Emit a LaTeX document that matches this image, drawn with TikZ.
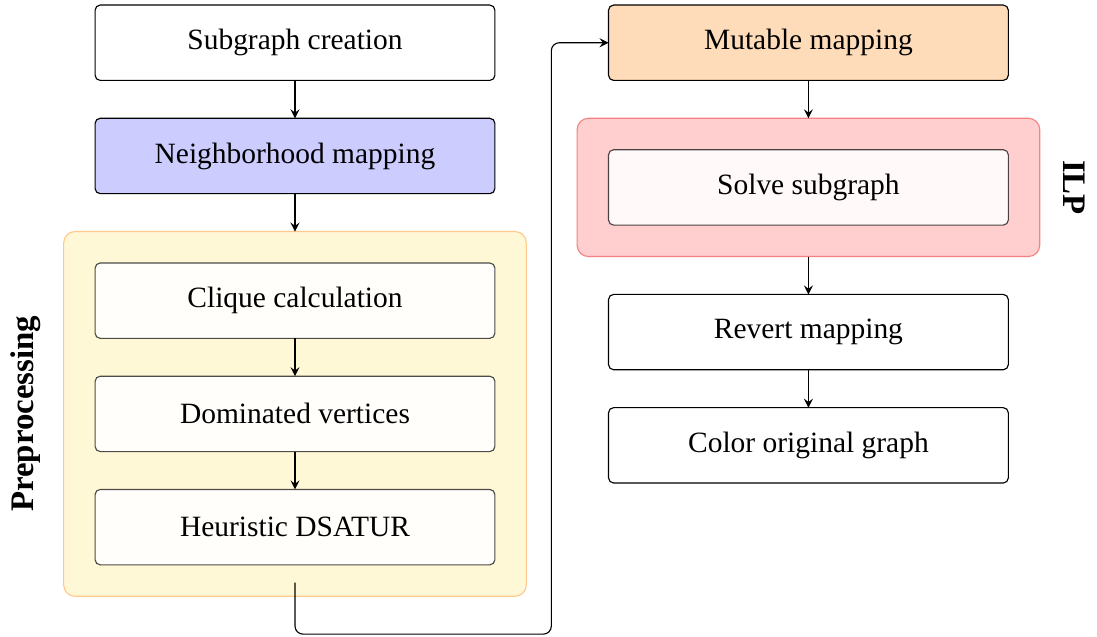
\documentclass[tikz,border=0pt]{standalone}
\usepackage{fontspec}
\setmainfont{Liberation Serif}
\usetikzlibrary{positioning,calc,fit,backgrounds}

\definecolor{nbhfill}{RGB}{204,204,255}
\definecolor{mutfill}{RGB}{255,220,185}
\definecolor{prepfill}{RGB}{255,248,215}
\definecolor{prepdraw}{RGB}{255,200,140}
\definecolor{ilpfill}{RGB}{255,206,206}
\definecolor{ilpdraw}{RGB}{245,130,130}

\begin{document}
\begin{tikzpicture}[inner sep=0pt,outer sep=0pt,
    every node/.style={font=\fontsize{10.4}{12}\selectfont},
    stepbox/.style={draw, rounded corners=1.8pt, minimum width=4.96cm, minimum height=0.935cm, fill=white},
    innerbox/.style={stepbox, fill opacity=0.88, draw opacity=0.7, text opacity=1},
    groupbox/.style={rounded corners=4pt, inner sep=0.39cm},
    arr/.style={-stealth}]
    \useasboundingbox (0,0) rectangle (13.61,-7.90);

    % left column
    \node[stepbox] (sub) at (3.66,-0.53) {Subgraph creation};
    \node[stepbox, fill=nbhfill, below=0.47cm of sub] (nbh) {Neighborhood mapping};
    \node[innerbox, below=0.86cm of nbh] (clique) {Clique calculation};
    \node[innerbox, below=0.47cm of clique] (dom) {Dominated vertices};
    \node[innerbox, below=0.47cm of dom] (dsatur) {Heuristic DSATUR};

    % right column
    \node[stepbox, fill=mutfill] (mut) at (10.03,-0.53) {Mutable mapping};
    \node[innerbox, below=0.86cm of mut] (solve) {Solve subgraph};
    \node[stepbox, below=0.86cm of solve] (revert) {Revert mapping};
    \node[stepbox, below=0.47cm of revert] (color) {Color original graph};

    % groups
    \begin{scope}[on background layer]
    \node[groupbox, fill=prepfill, draw=prepdraw, fit=(clique)(dsatur)] (prep) {};
    \node[groupbox, fill=ilpfill, draw=ilpdraw, fit=(solve)] (ilp) {};
    \end{scope}

    \node[rotate=90, font=\fontsize{11.6}{14}\selectfont\bfseries] (prep_lbl) at ($(prep.west)+(-0.47cm,0)$) {Preprocessing};
    \node[rotate=-90, font=\fontsize{11.6}{14}\selectfont\bfseries] (ilp_lbl) at ($(ilp.east)+(0.43cm,0)$) {ILP};

    % arrows
    \draw[arr] (sub.south) -- (nbh.north);
    \draw[arr] (nbh.south) -- (prep.north);
    \draw[arr] (clique.south) -- (dom.north);
    \draw[arr] (dom.south) -- (dsatur.north);
    \draw[arr, rounded corners=0.1cm, shorten <=0.22cm] (dsatur.south) -- ++(0,-0.86cm)
        -| ($(mut.west)+(-0.71cm,0)$) -- (mut.west);
    \draw[arr] (mut.south) -- (ilp.north);
    \draw[arr] (ilp.south) -- (revert.north);
    \draw[arr] (revert.south) -- (color.north);

\end{tikzpicture}
\end{document}
